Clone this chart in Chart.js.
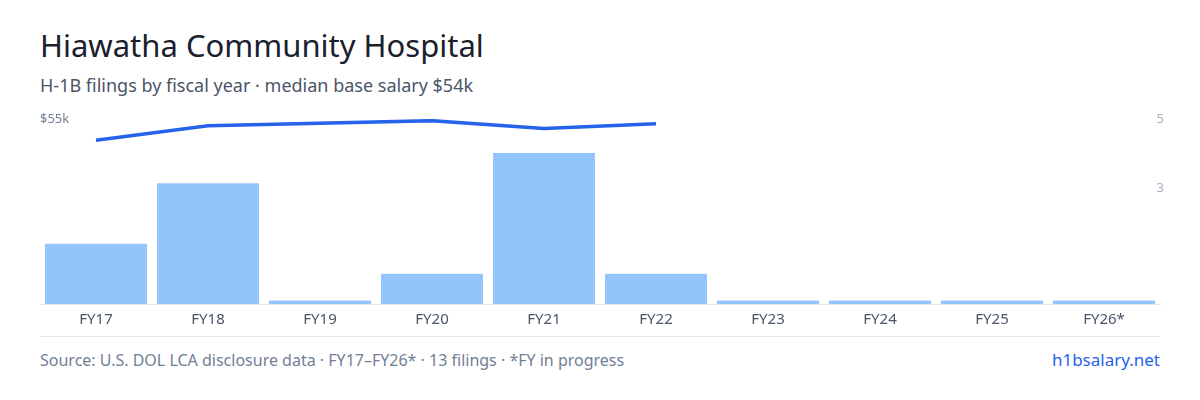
<!DOCTYPE html>
<html><head><meta charset="utf-8">
<script src="https://cdn.jsdelivr.net/npm/chart.js@4"></script>
<style>
body{margin:0;width:1200px;height:400px;background:#fff;font-family:"Noto Sans",sans-serif;position:relative;overflow:hidden}
#t{position:absolute;left:40px;top:24px;font-size:31px;color:#1a202c}
#s{position:absolute;left:40px;top:73px;font-size:18px;color:#4a5568}
#c{position:absolute;left:0;top:100px;width:1200px;height:236px}
#line{position:absolute;left:40px;width:1120px;top:336px;height:1px;background:#e2e8f0}
#f{position:absolute;left:40px;top:349px;font-size:16px;color:#718096}
#b{position:absolute;right:40px;top:348px;font-size:17px;color:#2563eb}
</style></head><body>
<div id="t">Hiawatha Community Hospital</div>
<div id="s">H-1B filings by fiscal year · median base salary $54k</div>
<div id="c"><canvas id="cv" width="1200" height="236"></canvas></div>
<div id="line"></div>
<div id="f">Source: U.S. DOL LCA disclosure data · FY17–FY26* · 13 filings · *FY in progress</div>
<div id="b">h1bsalary.net</div>
<script>
const categories=["FY17","FY18","FY19","FY20","FY21","FY22","FY23","FY24","FY25","FY26*"];
const filings=[2,4,0,1,5,1,0,0,0,0];
const salaryK=[48.7,53.0,null,54.5,52.2,53.6,null,null,null,null];
const leftTicks=[55];
const rightTickVals=[3.84,6.13];const rightTickLabels=["3","5"];
new Chart(document.getElementById('cv'),{
 data:{labels:categories,datasets:[
  {type:'line',data:salaryK,yAxisID:'yl',borderColor:'#2563eb',borderWidth:3.5,pointRadius:0,spanGaps:true,tension:0},
  {type:'bar',data:filings.map(v=>v===0?0.12:v),yAxisID:'yr',backgroundColor:'#93c5fd',categoryPercentage:0.91,barPercentage:1}
 ]},
 options:{responsive:false,animation:false,devicePixelRatio:1,
  layout:{padding:{left:40,right:40,top:19,bottom:0}},
  plugins:{legend:{display:false},tooltip:{enabled:false}},
  scales:{
   x:{grid:{display:false,drawTicks:false},border:{color:'#e2e8f0'},ticks:{color:'#4a5568',font:{family:'Noto Sans',size:15},padding:7}},
   yl:{position:'left',min:0,max:55,grid:{display:false},border:{display:false},afterFit:a=>{a.width=0},
     afterBuildTicks:a=>{a.ticks=leftTicks.map(v=>({value:v}))},
     ticks:{mirror:true,padding:0,color:'#718096',font:{family:'Noto Sans',size:13},callback:v=>'$'+v+'k'}},
   yr:{position:'right',min:0,max:6.13,grid:{display:false},border:{display:false},afterFit:a=>{a.width=0},
     afterBuildTicks:a=>{a.ticks=rightTickVals.map(v=>({value:v}))},
     ticks:{mirror:true,padding:4,color:'#a0aec0',font:{family:'Noto Sans',size:13},callback:(v,i)=>rightTickLabels[i]}}
  }}
});
</script></body></html>
